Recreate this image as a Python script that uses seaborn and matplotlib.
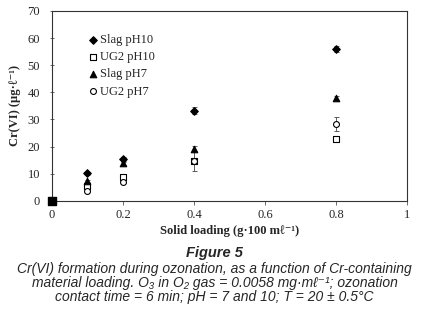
import matplotlib
matplotlib.use("Agg")
import matplotlib.pyplot as plt
import seaborn as sns
import pandas as pd

# ---- data ----
loading = [0.0, 0.1, 0.2, 0.4, 0.8]
slag_ph10 = [0.0, 10.2, 15.3, 33.3, 56.1]
slag_ph10_err = [0.0, 0.5, 1.0, 1.3, 1.1]
ug2_ph10 = [0.0, 5.4, 9.0, 14.7, 22.9]
ug2_ph10_err = [0.0, 0.5, 0.6, 0.8, 0.5]
slag_ph7 = [0.0, 7.4, 14.0, 19.3, 37.9]
slag_ph7_err = [0.0, 0.5, 0.8, 0.8, 0.8]
ug2_ph7 = [0.0, 3.7, 7.1, 14.6, 28.4]
ug2_ph7_err = [0.0, 0.4, 0.6, 3.7, 2.5]

series_names = ["Slag pH10", "UG2 pH10", "Slag pH7", "UG2 pH7"]
series_vals = [slag_ph10, ug2_ph10, slag_ph7, ug2_ph7]
series_errs = [slag_ph10_err, ug2_ph10_err, slag_ph7_err, ug2_ph7_err]

x_ticks = [0, 0.2, 0.4, 0.6, 0.8, 1]
x_tick_labels = ["0", "0.2", "0.4", "0.6", "0.8", "1"]
y_ticks = [0, 10, 20, 30, 40, 50, 60, 70]

rows = []
for name, vals, errs in zip(series_names, series_vals, series_errs):
    for xv, yv, ev in zip(loading, vals, errs):
        rows.append({"Solid loading": xv, "Cr(VI)": yv, "err": ev, "series": name})
df = pd.DataFrame(rows)

sns.set_theme(style="white")
serif = ["Liberation Serif", "DejaVu Serif"]
sans = ["Liberation Sans", "DejaVu Sans"]
plt.rcParams["font.family"] = serif

fig = plt.figure(figsize=(4.29, 3.19), dpi=100)
ax = fig.add_axes([0.121, 0.370, 0.828, 0.596])

styles = {
    "Slag pH10": dict(marker="D", face="black", s=15),
    "UG2 pH10": dict(marker="s", face="white", s=17),
    "Slag pH7": dict(marker="^", face="black", s=22),
    "UG2 pH7": dict(marker="o", face="white", s=18),
}

for name in series_names:
    sub = df[df["series"] == name]
    st = styles[name]
    ax.errorbar(sub["Solid loading"], sub["Cr(VI)"], yerr=sub["err"], fmt="none",
                ecolor="#444444", elinewidth=0.6, capsize=1.8, capthick=0.6, zorder=2,
                clip_on=False)
    sns.scatterplot(data=sub, x="Solid loading", y="Cr(VI)", ax=ax, marker=st["marker"],
                    s=st["s"], facecolor=st["face"], edgecolor="black", linewidth=0.8,
                    label=name, zorder=3, clip_on=False)

# black square at origin
ax.scatter([loading[0]], [0], marker="s", s=30, color="black", zorder=4, clip_on=False)

ax.set_xlim(0, 1)
ax.set_ylim(0, 70)
ax.set_xticks(x_ticks)
ax.set_xticklabels(x_tick_labels)
ax.set_yticks(y_ticks)
for sp in ax.spines.values():
    sp.set_visible(True)
    sp.set_color("#333333")
    sp.set_linewidth(0.8)
ax.tick_params(axis="x", direction="out", length=3, width=0.6, color="#555555",
               labelsize=9, pad=3, bottom=True)
ax.tick_params(axis="y", direction="inout", length=3, width=0.6, color="#555555",
               labelsize=9, pad=7, left=True)
ax.set_xlabel("Solid loading (g·100 mℓ⁻¹)", fontsize=9, fontweight="bold", family=serif, labelpad=3)
ax.set_ylabel("Cr(VI) (µg·ℓ⁻¹)", fontsize=9, fontweight="bold", family=serif, labelpad=5)
ax.grid(False)

leg = ax.legend(loc="upper left", bbox_to_anchor=(0.085, 0.905), frameon=False,
                fontsize=9, handletextpad=0.05, labelspacing=0.42, handlelength=1.0,
                borderaxespad=0)

fig.text(0.5, 0.207, "Figure 5", ha="center", va="center", family=sans,
         fontsize=10.5, fontweight="bold", style="italic")
caption = ("Cr(VI) formation during ozonation, as a function of Cr-containing\n"
           "material loading. O₃ in O₂ gas = 0.0058 mg·mℓ⁻¹; ozonation\n"
           "contact time = 6 min; pH = 7 and 10; T = 20 ± 0.5°C")
fig.text(0.5, 0.113, caption, ha="center", va="center", family=sans,
         fontsize=10, style="italic", linespacing=1.03)

fig.savefig("out.png", dpi=100)
